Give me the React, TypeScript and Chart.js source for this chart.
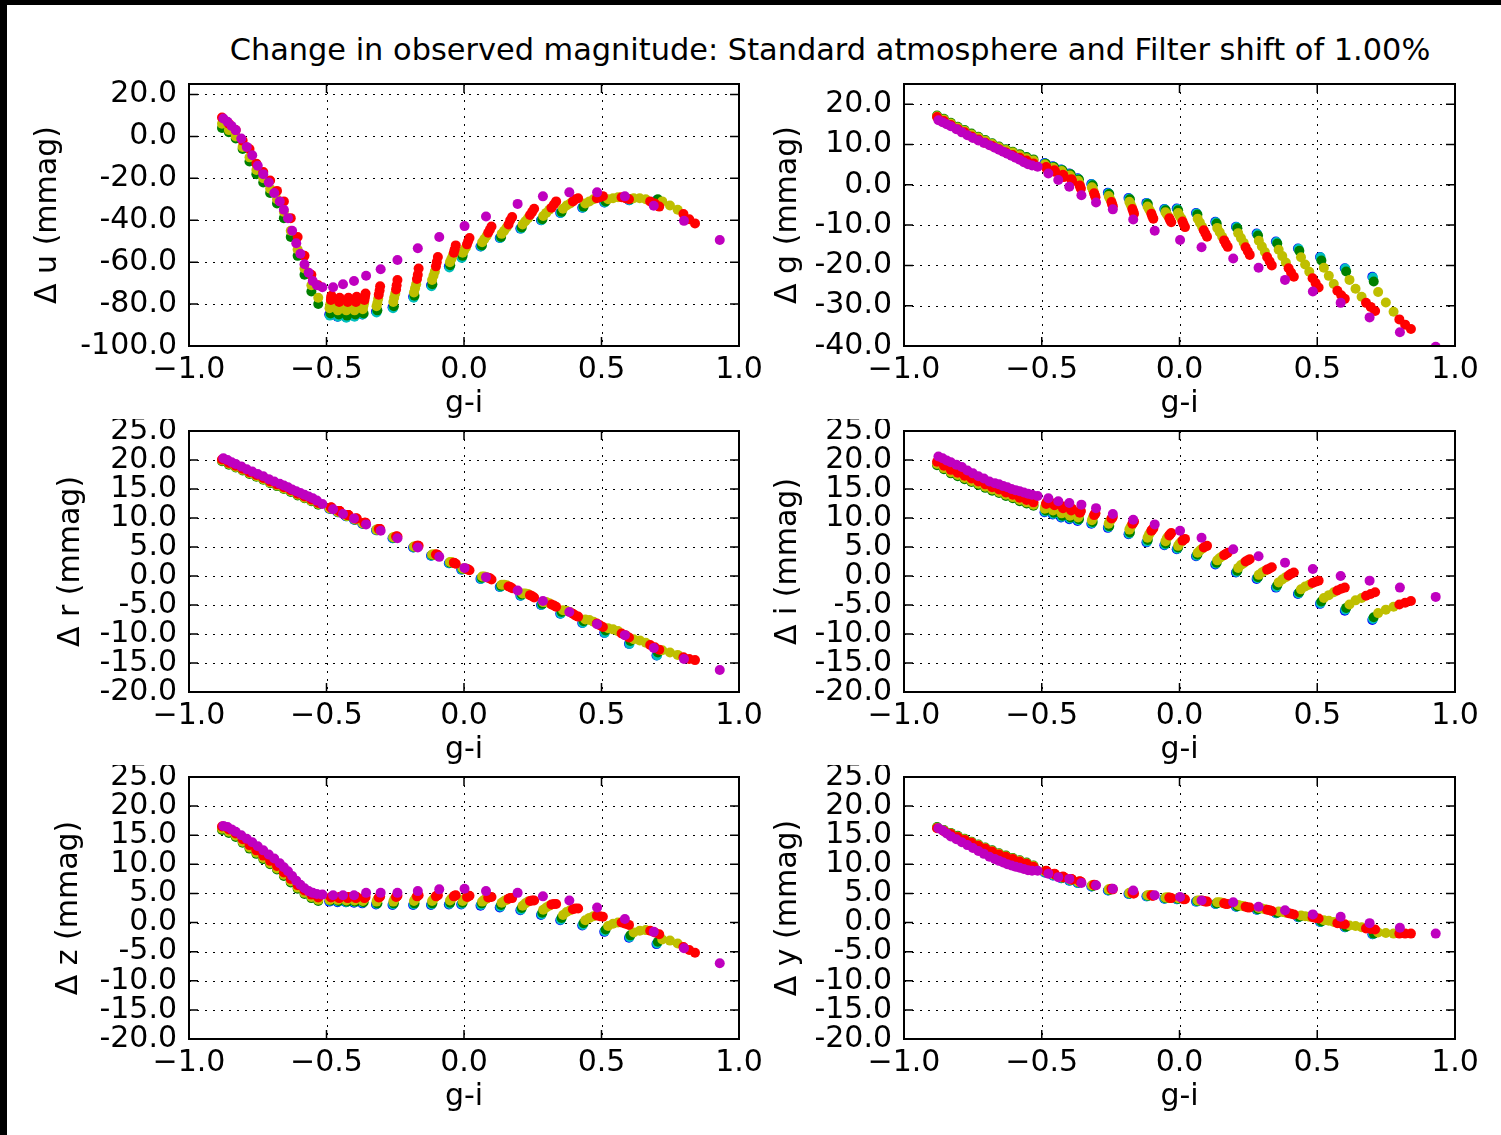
import React, { useEffect, useRef } from 'react';
import { Chart, registerables } from 'chart.js';

Chart.register(...registerables);

const FONT = '"DejaVu Sans", "Bitstream Vera Sans", sans-serif';
const TITLE = 'Change in observed magnitude: Standard atmosphere and Filter shift of 1.00%';
const X_LABEL = 'g-i';

// ---------- tick labels ----------
const X_TICKS = [-1, -0.5, 0, 0.5, 1];
const U_TICKS = [20, 0, -20, -40, -60, -80, -100];
const G_TICKS = [20, 10, 0, -10, -20, -30, -40];
const RIZY_TICKS = [25, 20, 15, 10, 5, 0, -5, -10, -15, -20];

// ---------- g-i values (shared by every panel) ----------
const GI_DENSE = [-0.88, -0.855, -0.83, -0.805, -0.78, -0.755, -0.73, -0.705, -0.68, -0.655, -0.63, -0.605, -0.58, -0.555, -0.53];
const X_B = [-0.49, -0.46, -0.43, -0.40, -0.37, -0.32, -0.26, -0.185, -0.12, -0.055, -0.01, 0.06, 0.13, 0.205, 0.28, 0.35, 0.43, 0.51, 0.60, 0.70];
const X_C = [-0.488, -0.458, -0.428, -0.398, -0.368, -0.318, -0.258, -0.183, -0.118, -0.053, -0.008, 0.062, 0.132, 0.207, 0.282, 0.352, 0.432, 0.512, 0.602, 0.702];
const X_G = [...GI_DENSE, -0.485, -0.455, -0.425, -0.395, -0.365, -0.315, -0.255, -0.18, -0.115, -0.05, -0.005, 0.065, 0.135, 0.21, 0.285, 0.355, 0.435, 0.515, 0.605, 0.705];
const X_Y = [...GI_DENSE,
  -0.489, -0.487, -0.486, -0.459, -0.457, -0.456, -0.428, -0.426, -0.424, -0.398, -0.396, -0.394, -0.368, -0.366, -0.363,
  -0.318, -0.315, -0.312, -0.257, -0.254, -0.25, -0.182, -0.178, -0.174, -0.116, -0.111, -0.106, -0.051, -0.046, -0.041,
  -0.005, 0.0, 0.007, 0.066, 0.074, 0.082, 0.137, 0.146, 0.155, 0.213, 0.223, 0.233, 0.288, 0.299, 0.31,
  0.36, 0.373, 0.386, 0.441, 0.456, 0.471, 0.524, 0.542, 0.56, 0.617, 0.639, 0.661, 0.721, 0.749, 0.777];
const X_R = [...GI_DENSE,
  -0.484, -0.483, -0.482, -0.454, -0.453, -0.452, -0.423, -0.421, -0.42, -0.393, -0.391, -0.39, -0.362, -0.36, -0.358,
  -0.31, -0.307, -0.305, -0.247, -0.245, -0.242, -0.171, -0.168, -0.165, -0.102, -0.099, -0.095, -0.037, -0.034, -0.03,
  0.011, 0.015, 0.02, 0.088, 0.094, 0.10, 0.162, 0.168, 0.175, 0.24, 0.248, 0.255, 0.318, 0.327, 0.335,
  0.396, 0.405, 0.415, 0.483, 0.494, 0.505, 0.573, 0.587, 0.60, 0.677, 0.694, 0.71, 0.798, 0.819, 0.84];
const X_M = [-0.875, -0.86, -0.845, -0.83, -0.81, -0.79, -0.77, -0.75, -0.73, -0.71, -0.69, -0.67, -0.655, -0.64, -0.625, -0.61, -0.595, -0.58, -0.565, -0.55, -0.535,
  -0.515, -0.476, -0.44, -0.40, -0.356, -0.303, -0.242, -0.168, -0.09, 0.002, 0.08, 0.195, 0.287, 0.383, 0.484, 0.585, 0.69, 0.80, 0.93];

// ---------- panel u ----------
const uB = [-85, -86, -86, -85.5, -85, -83.5, -81.5, -76.5, -71, -62, -57.5, -52.5, -48.5, -44, -40, -36.5, -34, -31.5, -30.5, -30.5];
const uC = [-85.5, -86, -86.5, -86, -85, -84, -82, -77, -71.5, -62.5, -58, -52.5, -48.5, -44, -40, -36.5, -34, -31.5, -30.5, -30.5];
const uG = [4, 2, -1, -6, -12, -18, -22, -27, -32, -39, -48, -57, -66, -74, -80,
  -84.5, -85, -85.5, -85, -84.5, -83, -81, -76, -70.5, -61.5, -57, -52, -48, -43.5, -39.5, -36, -33.5, -31, -30, -30];
const uY = [6, 3, 0, -5, -10, -16, -20, -25, -30, -36, -45, -54, -63, -71, -77,
  -82, -81, -80, -83, -82, -81, -83, -82, -80.5, -83, -82, -80, -82.5, -81, -79.5,
  -81, -79.5, -77.5, -79, -77, -75, -74.5, -72.5, -70.5, -68.5, -66.5, -64.5, -60, -58.5, -57,
  -55.5, -54.5, -53, -50.5, -49, -47.5, -46.5, -45, -43.5, -42, -40.5, -39, -38, -36.5, -35,
  -34.5, -33, -32, -32, -31, -30, -30, -29.5, -29, -29.5, -29.5, -30, -31, -33, -35];
const uR = [9, 6, 3, -2, -6, -13, -17, -21, -26, -31, -39, -48, -57, -66, -71,
  -78, -77, -76, -79, -78, -77, -79, -78, -77, -79, -77.5, -76.5, -78, -76.5, -75,
  -75.5, -73.5, -71.5, -73, -71, -68.5, -68, -66, -63, -62, -60, -57.5, -55.5, -54, -52,
  -51.5, -50, -48.5, -46, -44.5, -43, -42, -40, -38.5, -37.5, -36, -34.5, -34, -32.5, -31,
  -31, -30, -29.5, -29.5, -29, -28.5, -29, -29.5, -30, -31, -32, -33.5, -37, -39.5, -41.5];
const uM = [8.5, 7, 5, 3, -1, -5, -9, -14, -18, -22, -27, -31, -35, -39, -45, -51, -56, -61, -65, -69, -71,
  -72, -72, -70.5, -69, -66.5, -63.4, -59, -53.4, -48, -42.8, -38.2, -32.2, -28.6, -26.7, -26.7, -28.6, -33.1, -40.3, -49.4];

// ---------- panel g ----------
const gB = [5.4, 4.6, 3.8, 2.8, 1.6, 0.2, -2, -3.3, -4.5, -6.0, -5.9, -7, -9.2, -10.4, -12.1, -14.1, -15.8, -17.9, -20.7, -22.8];
const gC = [5.3, 4.5, 3.7, 2.7, 1.5, 0.1, -2.1, -3.4, -4.6, -6.1, -6.0, -7.1, -9.3, -10.5, -12.2, -14.2, -15.9, -18.0, -20.8, -23.0];
const gG = [17.2, 16.4, 15.4, 14.4, 13.6, 12.7, 11.9, 11.1, 10.3, 9.5, 8.8, 8.2, 7.6, 6.9, 6.3,
  5.2, 4.4, 3.6, 2.6, 1.3, -0.1, -2.3, -3.6, -4.8, -6.3, -6.3, -7.4, -9.6, -10.8, -12.6, -14.6, -16.4, -18.8, -21.5, -24];
const gY = [17, 16.2, 15.2, 14.2, 13.4, 12.5, 11.7, 10.9, 10.1, 9.3, 8.6, 8, 7.3, 6.6, 6,
  5, 4.8, 4.6, 4.2, 4.0, 3.8, 3.4, 3.1, 2.8, 2.3, 2.0, 1.7, 1.0, 0.6, 0.2,
  -0.6, -1.1, -1.6, -2.8, -3.3, -3.8, -4.2, -4.8, -5.4, -5.4, -6, -6.6, -6.8, -7.3, -7.8,
  -7, -7.7, -8.4, -8.4, -9.4, -10.4, -10.7, -11.8, -12.9, -12, -13.2, -14.4, -13.9, -15.3, -16.7,
  -16.1, -17.7, -19.3, -18, -19.8, -21.6, -20.6, -22.6, -24.6, -23.6, -25.8, -27.8, -26.6, -29.2, -31.5];
const gR = [16.8, 15.8, 14.8, 13.8, 13, 12, 11.2, 10.4, 9.6, 8.8, 8, 7.4, 6.7, 6, 5.3,
  4.4, 4.2, 4.0, 3.6, 3.4, 3.2, 2.5, 2.2, 1.9, 1.4, 1.1, 0.8, -0.2, -0.6, -1.0,
  -2.1, -2.6, -3.1, -4.3, -4.8, -5.3, -6, -6.6, -7.2, -7.2, -7.8, -8.4, -8.3, -8.8, -9.3,
  -9.1, -9.8, -10.5, -11.3, -12.1, -12.9, -13.8, -14.6, -15.4, -15.5, -16.5, -17.4, -17.9, -19, -20,
  -20.7, -21.8, -22.8, -23.2, -24.4, -25.5, -26.3, -27.4, -28.3, -29.3, -30.3, -31.3, -33.4, -34.7, -35.8];
const gM = [16, 15.5, 15, 14.5, 13.8, 13, 12.3, 11.6, 11, 10.4, 9.8, 9.2, 8.7, 8.2, 7.7, 7.2, 6.7, 6.2, 5.6, 5.1, 4.8,
  4.5, 2.8, 1.2, -0.5, -2.6, -4.4, -6.1, -8.6, -11.4, -13.7, -15.5, -18.3, -20.6, -23.6, -26.5, -29.3, -32.9, -36.6, -40.2];

// ---------- panel r ----------
const rB = [11.6, 11.0, 10.3, 9.7, 9.0, 7.9, 6.5, 4.9, 3.5, 2.2, 1.1, -0.5, -1.9, -3.4, -5.0, -6.5, -8.1, -9.8, -11.7, -13.7];
const rC = [11.6, 11.0, 10.3, 9.7, 9.0, 7.9, 6.5, 4.9, 3.5, 2.2, 1.1, -0.5, -1.9, -3.4, -5.0, -6.5, -8.1, -9.8, -11.7, -13.7];
const rG = [19.8, 19.2, 18.7, 18.2, 17.6, 17.1, 16.6, 16.0, 15.5, 15.0, 14.5, 13.9, 13.4, 12.9, 12.3,
  11.6, 11.0, 10.3, 9.7, 9.0, 7.9, 6.6, 5.0, 3.6, 2.3, 1.2, -0.3, -1.7, -3.2, -4.8, -6.2, -7.8, -9.4, -11.2, -13.2];
const rY = [19.9, 19.3, 18.8, 18.3, 17.7, 17.2, 16.7, 16.1, 15.6, 15.1, 14.6, 14.0, 13.5, 13.0, 12.4,
  11.7, 11.7, 11.7, 11.1, 11.1, 11.1, 10.4, 10.4, 10.4, 9.8, 9.8, 9.8, 9.1, 9.1, 9.1,
  8.0, 8.0, 8.0, 6.7, 6.7, 6.7, 5.1, 5.1, 5.1, 3.7, 3.7, 3.7, 2.4, 2.4, 2.3,
  1.3, 1.3, 1.3, -0.1, -0.1, -0.2, -1.5, -1.5, -1.6, -3.0, -3.0, -3.1, -4.5, -4.5, -4.7,
  -5.9, -6.0, -6.2, -7.5, -7.6, -7.9, -9.0, -9.2, -9.5, -10.9, -11.1, -11.5, -12.8, -13.2, -13.6];
const rR = [20.1, 19.5, 19.0, 18.5, 17.9, 17.4, 16.9, 16.3, 15.8, 15.3, 14.8, 14.2, 13.7, 13.2, 12.6,
  11.8, 11.8, 11.8, 11.2, 11.2, 11.2, 10.5, 10.5, 10.5, 9.9, 9.9, 9.9, 9.2, 9.2, 9.2,
  8.1, 8.1, 8.1, 6.8, 6.8, 6.8, 5.2, 5.2, 5.2, 3.7, 3.7, 3.6, 2.3, 2.2, 2.1,
  1.2, 1.1, 1.0, -0.3, -0.4, -0.6, -1.8, -1.9, -2.1, -3.3, -3.5, -3.7, -4.9, -5.1, -5.3,
  -6.5, -6.8, -7.0, -8.2, -8.5, -8.8, -9.9, -10.2, -10.6, -11.9, -12.3, -12.7, -14.0, -14.3, -14.5];
const rM = [20.3, 20.0, 19.6, 19.3, 18.9, 18.4, 18.0, 17.6, 17.2, 16.7, 16.3, 15.9, 15.6, 15.3, 14.9, 14.6, 14.3, 14.0, 13.7, 13.4, 13.0,
  12.4, 11.5, 10.7, 9.9, 8.9, 7.8, 6.5, 4.9, 3.3, 1.4, -0.2, -2.5, -4.3, -6.2, -8.3, -10.2, -12.4, -14.3, -16.2];

// ---------- panel i ----------
const iB = [11.0, 10.6, 10.1, 9.8, 9.5, 9.0, 8.3, 7.2, 5.8, 5.3, 4.6, 3.4, 2.0, 0.6, -0.5, -2.0, -3.1, -4.8, -6.0, -7.6];
const iC = [11.1, 10.7, 10.2, 9.9, 9.6, 9.1, 8.4, 7.3, 5.9, 5.4, 4.7, 3.5, 2.1, 0.7, -0.4, -1.9, -3.0, -4.7, -5.8, -7.4];
const iG = [19.1, 18.4, 17.7, 17.2, 16.7, 16.2, 15.7, 15.2, 14.7, 14.3, 13.8, 13.4, 12.9, 12.5, 12.1,
  11.3, 10.9, 10.4, 10.1, 9.8, 9.3, 8.6, 7.5, 6.2, 5.6, 4.9, 3.7, 2.3, 0.9, -0.2, -1.6, -2.8, -4.4, -5.5, -7.1];
const iY = [19.3, 18.6, 17.9, 17.4, 16.9, 16.4, 15.9, 15.4, 14.9, 14.5, 14.0, 13.6, 13.1, 12.7, 12.3,
  11.6, 11.9, 12.2, 11.3, 11.6, 11.9, 10.8, 11.1, 11.4, 10.4, 10.8, 11.1, 10.1, 10.4, 10.7,
  9.6, 10.0, 10.3, 9.0, 9.3, 9.6, 8.0, 8.4, 8.7, 6.6, 7.1, 7.5, 6.0, 6.5, 6.8,
  5.2, 5.6, 5.9, 4.0, 4.4, 4.7, 2.7, 3.1, 3.4, 1.4, 1.9, 2.2, 0.2, 0.6, 0.9,
  -1.1, -0.6, -0.2, -2.3, -1.8, -1.5, -3.8, -3.3, -2.8, -4.9, -4.2, -3.8, -6.4, -5.8, -5.3];
const iR = [19.7, 19.0, 18.3, 17.8, 17.3, 16.8, 16.3, 15.8, 15.3, 14.9, 14.4, 14.0, 13.5, 13.1, 12.7,
  12.4, 12.6, 12.7, 12.2, 12.3, 12.5, 11.7, 11.8, 12.0, 11.3, 11.5, 11.6, 10.9, 11.1, 11.2,
  10.5, 10.7, 10.8, 9.9, 10.0, 10.2, 9.0, 9.2, 9.4, 7.8, 8.0, 8.2, 7.0, 7.2, 7.4,
  6.1, 6.3, 6.4, 4.9, 5.1, 5.2, 3.6, 3.8, 4.0, 2.5, 2.7, 2.9, 1.1, 1.3, 1.5,
  0.1, 0.4, 0.6, -1.2, -1.0, -0.8, -2.5, -2.2, -2.0, -3.4, -3.1, -2.8, -4.9, -4.6, -4.3];
const iM = [20.6, 20.3, 19.9, 19.6, 19.2, 18.8, 18.2, 17.7, 17.2, 16.8, 16.3, 16.0, 15.8, 15.5, 15.3, 15.0, 14.8, 14.6, 14.4, 14.2, 14.0,
  13.8, 13.4, 12.9, 12.6, 12.3, 11.7, 10.7, 9.7, 8.9, 7.8, 6.6, 4.6, 3.4, 2.3, 1.2, 0.0, -0.8, -2.0, -3.6];

// ---------- panel z ----------
const zB = [3.6, 3.5, 3.5, 3.4, 3.3, 3.1, 3.0, 3.0, 3.0, 3.1, 3.1, 2.9, 2.6, 2.1, 1.3, 0.4, -0.5, -1.6, -2.6, -3.7];
const zC = [3.7, 3.6, 3.5, 3.5, 3.4, 3.2, 3.1, 3.1, 3.1, 3.2, 3.2, 3.0, 2.7, 2.2, 1.4, 0.5, -0.4, -1.5, -2.5, -3.6];
const zG = [15.9, 15.4, 14.7, 13.7, 12.7, 11.8, 10.9, 10.0, 9.1, 8.0, 6.9, 5.8, 4.9, 4.2, 3.7,
  3.8, 3.7, 3.6, 3.6, 3.5, 3.3, 3.3, 3.3, 3.3, 3.4, 3.4, 3.3, 3.0, 2.5, 1.7, 0.8, -0.1, -1.2, -2.2, -3.3];
const zY = [16.1, 15.6, 14.9, 13.9, 12.9, 12.0, 11.1, 10.2, 9.3, 8.2, 7.1, 6.0, 5.1, 4.4, 3.9,
  3.9, 4.0, 4.2, 3.9, 4.0, 4.1, 3.8, 4.0, 4.1, 3.8, 4.0, 4.1, 3.7, 3.9, 4.1,
  3.6, 3.9, 4.1, 3.6, 3.9, 4.2, 3.7, 4.0, 4.3, 3.7, 4.0, 4.3, 3.8, 4.1, 4.3,
  3.7, 4.0, 4.2, 3.6, 3.9, 4.1, 3.4, 3.7, 3.9, 2.9, 3.3, 3.6, 2.2, 2.6, 2.9,
  1.3, 1.8, 2.1, 0.4, 0.8, 1.1, -0.6, -0.2, 0.0, -1.7, -1.4, -1.3, -2.9, -3.1, -3.6];
const zR = [16.5, 16.0, 15.3, 14.3, 13.3, 12.4, 11.5, 10.6, 9.7, 8.6, 7.5, 6.4, 5.5, 4.8, 4.3,
  4.3, 4.4, 4.4, 4.2, 4.3, 4.4, 4.2, 4.3, 4.4, 4.2, 4.3, 4.4, 4.2, 4.3, 4.4,
  4.3, 4.4, 4.5, 4.4, 4.5, 4.6, 4.5, 4.6, 4.7, 4.5, 4.6, 4.7, 4.5, 4.6, 4.7,
  4.4, 4.5, 4.6, 4.3, 4.4, 4.4, 4.1, 4.2, 4.2, 3.7, 3.8, 3.8, 3.1, 3.2, 3.2,
  2.3, 2.4, 2.4, 1.2, 1.1, 1.0, 0.0, -0.2, -0.4, -1.4, -1.7, -2.0, -4.2, -4.7, -5.2];
const zM = [16.6, 16.4, 16.0, 15.6, 15.0, 14.4, 13.8, 13.1, 12.4, 11.7, 11.0, 10.2, 9.5, 8.8, 8.0, 7.2, 6.5, 5.9, 5.4, 5.1, 4.9,
  4.8, 4.7, 4.7, 4.7, 5.1, 5.1, 5.1, 5.4, 5.7, 5.8, 5.4, 5.1, 4.5, 3.8, 2.6, 0.6, -1.6, -4.4, -7.0];

// ---------- panel y ----------
const yB = [8.6, 8.1, 7.6, 7.2, 6.8, 6.2, 5.5, 4.9, 4.5, 4.1, 4.0, 3.6, 3.2, 2.7, 2.2, 1.6, 0.9, 0.1, -0.8, -2.0];
const yC = [8.6, 8.1, 7.6, 7.2, 6.8, 6.2, 5.5, 4.9, 4.5, 4.1, 4.0, 3.6, 3.2, 2.7, 2.2, 1.6, 0.9, 0.1, -0.8, -2.0];
const yG = [16.4, 15.9, 15.4, 14.9, 14.4, 13.9, 13.4, 12.9, 12.4, 11.9, 11.5, 11.1, 10.7, 10.3, 9.8,
  8.7, 8.2, 7.7, 7.3, 6.9, 6.3, 5.6, 5.0, 4.6, 4.2, 4.1, 3.7, 3.3, 2.8, 2.3, 1.7, 1.0, 0.2, -0.7, -1.9];
const yY = [16.3, 15.8, 15.3, 14.8, 14.3, 13.8, 13.3, 12.8, 12.3, 11.8, 11.4, 11.0, 10.6, 10.2, 9.7,
  8.8, 8.8, 8.8, 8.3, 8.3, 8.3, 7.8, 7.8, 7.8, 7.4, 7.4, 7.4, 7.0, 7.0, 7.0,
  6.4, 6.4, 6.4, 5.7, 5.7, 5.7, 5.1, 5.1, 5.1, 4.7, 4.7, 4.7, 4.3, 4.3, 4.3,
  4.2, 4.2, 4.2, 3.8, 3.8, 3.8, 3.5, 3.5, 3.4, 3.0, 2.9, 2.8, 2.5, 2.4, 2.3,
  1.9, 1.8, 1.7, 1.2, 1.1, 1.0, 0.4, 0.3, 0.1, -0.5, -0.6, -0.8, -1.7, -1.8, -1.9];
const yR = [16.2, 15.7, 15.2, 14.7, 14.2, 13.7, 13.2, 12.7, 12.2, 11.7, 11.3, 10.9, 10.5, 10.1, 9.6,
  8.9, 8.8, 8.8, 8.4, 8.3, 8.3, 7.9, 7.8, 7.8, 7.5, 7.4, 7.4, 7.1, 7.0, 7.0,
  6.5, 6.4, 6.4, 5.8, 5.7, 5.7, 5.1, 5.0, 5.0, 4.7, 4.6, 4.6, 4.3, 4.2, 4.2,
  4.1, 4.0, 4.0, 3.7, 3.6, 3.6, 3.3, 3.2, 3.2, 2.7, 2.6, 2.6, 2.2, 2.1, 2.0,
  1.6, 1.5, 1.4, 0.9, 0.8, 0.7, -0.1, -0.2, -0.3, -1.0, -1.1, -1.2, -1.9, -1.9, -1.9];
const yM = [16.2, 15.8, 15.3, 14.8, 14.3, 13.8, 13.3, 12.8, 12.3, 11.8, 11.3, 10.9, 10.6, 10.3, 10.0, 9.8, 9.6, 9.4, 9.2, 9.0, 8.9,
  8.9, 8.4, 7.8, 7.5, 6.8, 6.4, 5.8, 5.5, 4.7, 4.4, 3.8, 3.5, 2.7, 2.1, 1.4, 1.0, -0.1, -0.9, -1.9];

// ---------- styling / layout ----------
const COLORS = { b: '#0000ff', c: '#00bfbf', g: '#008000', y: '#bfbf00', r: '#ff0000', m: '#bf00bf' };
const COL_L = [189, 904];
const COL_W = [550, 551];
const ROW_T = [84, 431, 777];
const ROW_H = [262, 261, 262];
const Y_AXIS_W = 180;
const X_AXIS_H = 80;
const PAD_T = 12;
const PAD_R = 35;

type PanelCfg = {
  band: string; col: number; row: number; yMin: number; yMax: number; ticks: number[]; titleX: number;
  b: number[]; c: number[]; g: number[]; y: number[]; r: number[]; m: number[];
};

const PANELS: PanelCfg[] = [
  { band: 'u', col: 0, row: 0, yMin: -100, yMax: 25, ticks: U_TICKS, titleX: 48, b: uB, c: uC, g: uG, y: uY, r: uR, m: uM },
  { band: 'g', col: 1, row: 0, yMin: -40, yMax: 25, ticks: G_TICKS, titleX: 788, b: gB, c: gC, g: gG, y: gY, r: gR, m: gM },
  { band: 'r', col: 0, row: 1, yMin: -20, yMax: 25, ticks: RIZY_TICKS, titleX: 71, b: rB, c: rC, g: rG, y: rY, r: rR, m: rM },
  { band: 'i', col: 1, row: 1, yMin: -20, yMax: 25, ticks: RIZY_TICKS, titleX: 788, b: iB, c: iC, g: iG, y: iY, r: iR, m: iM },
  { band: 'z', col: 0, row: 2, yMin: -20, yMax: 25, ticks: RIZY_TICKS, titleX: 69, b: zB, c: zC, g: zG, y: zY, r: zR, m: zM },
  { band: 'y', col: 1, row: 2, yMin: -20, yMax: 25, ticks: RIZY_TICKS, titleX: 788, b: yB, c: yC, g: yG, y: yY, r: yR, m: yM },
];

const fmtX = (v: number) => (v < 0 ? '\u2212' + Math.abs(v).toFixed(1) : v.toFixed(1));
const fmtY = (v: number) => v.toFixed(1);

const framePlugin = {
  id: 'mplFrame',
  beforeDatasetsDraw(chart: any) {
    const { ctx, chartArea: a, scales } = chart;
    ctx.save();
    ctx.strokeStyle = '#000';
    ctx.lineWidth = 1;
    ctx.setLineDash([2, 6]);
    scales.x.ticks.forEach((t: any) => {
      const px = Math.round(scales.x.getPixelForValue(t.value)) + 0.5;
      if (px > a.left + 2 && px < a.right - 2) {
        ctx.beginPath(); ctx.moveTo(px, a.top); ctx.lineTo(px, a.bottom); ctx.stroke();
      }
    });
    scales.y.ticks.forEach((t: any) => {
      const py = Math.round(scales.y.getPixelForValue(t.value)) + 0.5;
      if (py > a.top + 2 && py < a.bottom - 2) {
        ctx.beginPath(); ctx.moveTo(a.left, py); ctx.lineTo(a.right, py); ctx.stroke();
      }
    });
    ctx.restore();
  },
  afterDatasetsDraw(chart: any) {
    const { ctx, chartArea: a, scales } = chart;
    ctx.save();
    ctx.strokeStyle = '#000';
    ctx.setLineDash([]);
    ctx.lineWidth = 1.5;
    const tl = 9;
    scales.x.ticks.forEach((t: any) => {
      const px = scales.x.getPixelForValue(t.value);
      ctx.beginPath();
      ctx.moveTo(px, a.bottom); ctx.lineTo(px, a.bottom - tl);
      ctx.moveTo(px, a.top); ctx.lineTo(px, a.top + tl);
      ctx.stroke();
    });
    scales.y.ticks.forEach((t: any) => {
      const py = scales.y.getPixelForValue(t.value);
      ctx.beginPath();
      ctx.moveTo(a.left, py); ctx.lineTo(a.left + tl, py);
      ctx.moveTo(a.right, py); ctx.lineTo(a.right - tl, py);
      ctx.stroke();
    });
    ctx.lineWidth = 2;
    ctx.strokeRect(a.left, a.top, a.right - a.left, a.bottom - a.top);
    ctx.restore();
  },
};

function series(xs: number[], ys: number[]) {
  return xs.map((x, i) => ({ x, y: ys[i] }));
}

function PanelChart({ p }: { p: PanelCfg }) {
  const ref = useRef<HTMLCanvasElement>(null);
  const left = COL_L[p.col] - Y_AXIS_W;
  const top = ROW_T[p.row] - PAD_T;
  const width = Y_AXIS_W + COL_W[p.col] + PAD_R;
  const height = PAD_T + ROW_H[p.row] + X_AXIS_H;

  useEffect(() => {
    const canvas = ref.current;
    if (!canvas) return;
    const mk = (label: string, xs: number[], ys: number[], color: string, order: number) => ({
      label,
      data: series(xs, ys),
      backgroundColor: color,
      borderColor: color,
      pointRadius: 5,
      pointHoverRadius: 5,
      pointBorderWidth: 0,
      showLine: false,
      order,
      clip: 0,
    });
    const font = { family: FONT, size: 30 };
    const chart = new Chart(canvas, {
      type: 'scatter',
      data: {
        datasets: [
          mk('b', X_B, p.b, COLORS.b, 6),
          mk('c', X_C, p.c, COLORS.c, 5),
          mk('g', X_G, p.g, COLORS.g, 4),
          mk('y', X_Y, p.y, COLORS.y, 3),
          mk('r', X_R, p.r, COLORS.r, 2),
          mk('m', X_M, p.m, COLORS.m, 1),
        ] as any,
      },
      options: {
        animation: false,
        responsive: false,
        events: [],
        layout: { padding: { top: PAD_T, right: PAD_R, left: 0, bottom: 0 } },
        plugins: { legend: { display: false }, tooltip: { enabled: false }, title: { display: false } },
        scales: {
          x: {
            type: 'linear',
            min: -1,
            max: 1,
            afterBuildTicks: (s: any) => { s.ticks = X_TICKS.map((v) => ({ value: v })); },
            afterFit: (s: any) => { s.height = X_AXIS_H; s.paddingLeft = 0; s.paddingRight = 0; },
            grid: { display: false, drawTicks: false },
            border: { display: false },
            ticks: {
              color: '#000', font, padding: 6, autoSkip: false, maxRotation: 0, minRotation: 0,
              callback: (v: any) => fmtX(Number(v)),
            },
            title: { display: true, text: X_LABEL, color: '#000', font, padding: { top: 0, bottom: 4 } },
          },
          y: {
            type: 'linear',
            min: p.yMin,
            max: p.yMax,
            afterBuildTicks: (s: any) => { s.ticks = p.ticks.map((v) => ({ value: v })); },
            afterFit: (s: any) => { s.width = Y_AXIS_W; s.paddingTop = 0; s.paddingBottom = 0; },
            grid: { display: false, drawTicks: false },
            border: { display: false },
            ticks: {
              color: '#000', font, padding: 12, autoSkip: false,
              callback: (v: any) => fmtY(Number(v)),
            },
            title: {
              display: true,
              text: '\u0394 ' + p.band + ' (mmag)',
              color: '#000',
              font,
              padding: { top: p.titleX - left - 18, bottom: 0 },
            },
          },
        },
      } as any,
      plugins: [framePlugin],
    });
    return () => chart.destroy();
  }, []);

  return (
    <canvas
      ref={ref}
      width={width}
      height={height}
      style={{ position: 'absolute', left, top, width, height }}
    />
  );
}

export default function App() {
  return (
    <div style={{ position: 'absolute', left: 0, top: 0, width: 1501, height: 1135, background: '#fff', overflow: 'hidden' }}>
      <div style={{ position: 'absolute', left: 0, top: 0, width: 1501, height: 5, background: '#000' }} />
      <div style={{ position: 'absolute', left: 0, top: 0, width: 7, height: 1135, background: '#000' }} />
      <div
        style={{
          position: 'absolute', left: 130, top: 32, width: 1400, textAlign: 'center',
          fontFamily: FONT, fontSize: 30.4, lineHeight: '36px', color: '#000', whiteSpace: 'nowrap',
        }}
      >
        {TITLE}
      </div>
      {PANELS.map((p) => (
        <PanelChart key={p.band} p={p} />
      ))}
    </div>
  );
}
